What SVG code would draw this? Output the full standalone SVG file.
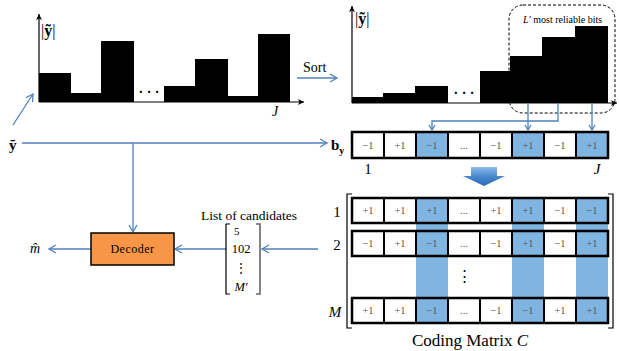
<svg xmlns="http://www.w3.org/2000/svg" width="619" height="351" viewBox="0 0 619 351" font-family="'Liberation Serif', 'DejaVu Serif', serif">
<defs>
<style>
text{font-family:'Liberation Serif','DejaVu Serif',serif;}
.cell{font-size:10.5px;fill:#555;text-anchor:middle;}
.c{stroke:#000;stroke-width:2;fill:#fff;}
.s{stroke:#000;stroke-width:2;fill:#7FB5E0;}
.con{stroke:#4F81BD;stroke-width:1.3;fill:none;}
.bar{fill:#000;}
</style>
<marker id="ah" markerUnits="userSpaceOnUse" markerWidth="12" markerHeight="12" refX="8" refY="5" orient="auto">
<path d="M1,1 L8,5 L1,9" fill="none" stroke="#4F81BD" stroke-width="1.3"/>
</marker>
<marker id="ahs" markerUnits="userSpaceOnUse" markerWidth="10" markerHeight="10" refX="6" refY="4" orient="auto">
<path d="M1,1 L6,4 L1,7" fill="none" stroke="#4F81BD" stroke-width="1.3"/>
</marker>
<marker id="bk" markerUnits="userSpaceOnUse" markerWidth="10" markerHeight="10" refX="6" refY="4" orient="auto">
<path d="M0,1 L6,4 L0,7 L1.5,4 Z" fill="#000"/>
</marker>
<linearGradient id="dg" x1="0" y1="0" x2="0" y2="1">
<stop offset="0" stop-color="#8DBBE8"/>
<stop offset="0.5" stop-color="#4A89D0"/>
<stop offset="1" stop-color="#2A66B0"/>
</linearGradient>
</defs>
<rect width="619" height="351" fill="#fff"/>

<g id="chart-unsorted">
<rect class="bar" x="39" y="73" width="32" height="29"/>
<rect class="bar" x="71" y="93" width="30" height="9"/>
<rect class="bar" x="101" y="41" width="33" height="61"/>
<rect class="bar" x="164" y="86" width="31" height="16"/>
<rect class="bar" x="195" y="59" width="33" height="43"/>
<rect class="bar" x="228" y="96" width="30" height="6"/>
<rect class="bar" x="258" y="34" width="32" height="68"/>
<line x1="39" y1="102" x2="39" y2="14" stroke="#000" stroke-width="1.2" marker-end="url(#bk)"/>
<line x1="39" y1="102" x2="304" y2="102" stroke="#000" stroke-width="1.2" marker-end="url(#bk)"/>
<text x="149" y="97" font-size="14" font-weight="bold" text-anchor="middle">· · ·</text>
<text x="41" y="36" font-size="16"><tspan>|</tspan><tspan font-weight="bold">ỹ</tspan><tspan>|</tspan></text>
<text x="275" y="116" font-size="14" font-style="italic" text-anchor="middle">J</text>
</g>

<g id="chart-sorted">
<rect class="bar" x="352" y="97" width="31" height="6"/>
<rect class="bar" x="383" y="93" width="32" height="10"/>
<rect class="bar" x="415" y="86" width="33" height="17"/>
<rect class="bar" x="480" y="71" width="30" height="32"/>
<rect class="bar" x="510" y="56" width="32" height="47"/>
<rect class="bar" x="542" y="37" width="33" height="66"/>
<rect class="bar" x="575" y="26" width="33" height="77"/>
<line x1="352" y1="103" x2="352" y2="6" stroke="#000" stroke-width="1.2" marker-end="url(#bk)"/>
<line x1="352" y1="103" x2="617" y2="103" stroke="#000" stroke-width="1.2" marker-end="url(#bk)"/>
<text x="464" y="98" font-size="14" font-weight="bold" text-anchor="middle">· · ·</text>
<text x="355" y="24" font-size="16"><tspan>|</tspan><tspan font-weight="bold">ỹ</tspan><tspan>|</tspan></text>
<rect x="509" y="5" width="106" height="108" rx="14" fill="none" stroke="#000" stroke-width="1" stroke-dasharray="3,2"/>
<text x="523" y="23" font-size="10"><tspan font-style="italic">L′</tspan> most reliable bits</text>
</g>

<g id="labels">
<text x="303" y="72" font-size="14">Sort</text>
<text x="9" y="150" font-size="15" font-weight="bold">ỹ</text>
<text x="30" y="253" font-size="14" font-style="italic">m̂</text>
<text x="331" y="150" font-size="15" font-weight="bold">b<tspan font-size="10" dy="4">y</tspan></text>
<text x="368" y="174" font-size="15" text-anchor="middle">1</text>
<text x="597" y="174" font-size="15" font-style="italic" text-anchor="middle">J</text>
</g>

<g id="connectors">
<line class="con" x1="13" y1="125" x2="33" y2="94" marker-end="url(#ah)"/>
<line class="con" x1="297" y1="78" x2="337" y2="78" marker-end="url(#ah)"/>
<line class="con" x1="22" y1="143" x2="327" y2="143" marker-end="url(#ah)"/>
<line class="con" x1="133" y1="143" x2="133" y2="232" marker-end="url(#ah)"/>
<line class="con" x1="91" y1="249" x2="49" y2="249" marker-end="url(#ah)"/>
<line class="con" x1="226" y1="249" x2="175" y2="249" marker-end="url(#ah)"/>
<line class="con" x1="318" y1="249" x2="262" y2="249" marker-end="url(#ah)"/>
<polyline class="con" points="558,103 558,121 432,121 432,130" marker-end="url(#ahs)"/>
<line class="con" x1="528" y1="103" x2="528" y2="130" marker-end="url(#ahs)"/>
<line class="con" x1="592" y1="103" x2="592" y2="130" marker-end="url(#ahs)"/>
</g>

<g id="decoder">
<rect x="91" y="233" width="83" height="32" fill="#F79646" stroke="#000" stroke-width="1.5"/>
<text x="132.5" y="253" font-size="12" text-anchor="middle" letter-spacing="0.5">Decoder</text>
</g>

<g id="candidates">
<text x="249" y="220" font-size="13.5" text-anchor="middle">List of candidates</text>
<path d="M230,224 H226 V294 H230" fill="none" stroke="#000" stroke-width="1.2"/>
<path d="M256,224 H260 V294 H256" fill="none" stroke="#666" stroke-width="1.6"/>
<text x="234" y="235" font-size="11">5</text>
<text x="241" y="253" font-size="12.5" text-anchor="middle">102</text>
<text x="241" y="272" font-size="12" text-anchor="middle">⋮</text>
<text x="241" y="291" font-size="12.5" text-anchor="middle" font-style="italic">M′</text>
</g>

<g id="by-row">
<rect class="c" x="352" y="132" width="32" height="26"/>
<rect class="c" x="384" y="132" width="32" height="26"/>
<rect class="s" x="416" y="132" width="32" height="26"/>
<rect class="c" x="448" y="132" width="32" height="26"/>
<rect class="c" x="480" y="132" width="32" height="26"/>
<rect class="s" x="512" y="132" width="32" height="26"/>
<rect class="c" x="544" y="132" width="32" height="26"/>
<rect class="s" x="576" y="132" width="32" height="26"/>
<rect x="352" y="132" width="256" height="26" fill="none" stroke="#000" stroke-width="2.5"/>
<text class="cell" x="368" y="149">−1</text>
<text class="cell" x="400" y="149">+1</text>
<text class="cell" x="432" y="149">−1</text>
<text class="cell" x="464" y="149">...</text>
<text class="cell" x="496" y="149">−1</text>
<text class="cell" x="528" y="149">+1</text>
<text class="cell" x="560" y="149">−1</text>
<text class="cell" x="592" y="149">+1</text>
</g>

<g id="down-arrow">
<path d="M471,167 H497 V176 H505 L484,186 L463,176 H471 Z" fill="url(#dg)"/>
</g>

<g id="coding-matrix">
<rect x="416" y="198" width="32" height="125" fill="#7FB5E0"/>
<rect x="512" y="198" width="32" height="125" fill="#7FB5E0"/>
<rect x="576" y="198" width="32" height="125" fill="#7FB5E0"/>
<path d="M352,194 H347 V328 H352" fill="none" stroke="#000" stroke-width="1.2"/>
<path d="M608,194 H613 V328 H608" fill="none" stroke="#000" stroke-width="1.2"/>

<rect class="c" x="352" y="198" width="32" height="25"/>
<rect class="c" x="384" y="198" width="32" height="25"/>
<rect class="s" x="416" y="198" width="32" height="25"/>
<rect class="c" x="448" y="198" width="32" height="25"/>
<rect class="c" x="480" y="198" width="32" height="25"/>
<rect class="s" x="512" y="198" width="32" height="25"/>
<rect class="c" x="544" y="198" width="32" height="25"/>
<rect class="s" x="576" y="198" width="32" height="25"/>
<rect x="352" y="198" width="256" height="25" fill="none" stroke="#000" stroke-width="2.5"/>
<text class="cell" x="368" y="214">+1</text>
<text class="cell" x="400" y="214">+1</text>
<text class="cell" x="432" y="214">+1</text>
<text class="cell" x="464" y="214">...</text>
<text class="cell" x="496" y="214">+1</text>
<text class="cell" x="528" y="214">+1</text>
<text class="cell" x="560" y="214">−1</text>
<text class="cell" x="592" y="214">−1</text>

<rect class="c" x="352" y="231" width="32" height="25"/>
<rect class="c" x="384" y="231" width="32" height="25"/>
<rect class="s" x="416" y="231" width="32" height="25"/>
<rect class="c" x="448" y="231" width="32" height="25"/>
<rect class="c" x="480" y="231" width="32" height="25"/>
<rect class="s" x="512" y="231" width="32" height="25"/>
<rect class="c" x="544" y="231" width="32" height="25"/>
<rect class="s" x="576" y="231" width="32" height="25"/>
<rect x="352" y="231" width="256" height="25" fill="none" stroke="#000" stroke-width="2.5"/>
<text class="cell" x="368" y="247">−1</text>
<text class="cell" x="400" y="247">+1</text>
<text class="cell" x="432" y="247">−1</text>
<text class="cell" x="464" y="247">...</text>
<text class="cell" x="496" y="247">−1</text>
<text class="cell" x="528" y="247">+1</text>
<text class="cell" x="560" y="247">−1</text>
<text class="cell" x="592" y="247">+1</text>

<rect class="c" x="352" y="298" width="32" height="25"/>
<rect class="c" x="384" y="298" width="32" height="25"/>
<rect class="s" x="416" y="298" width="32" height="25"/>
<rect class="c" x="448" y="298" width="32" height="25"/>
<rect class="c" x="480" y="298" width="32" height="25"/>
<rect class="s" x="512" y="298" width="32" height="25"/>
<rect class="c" x="544" y="298" width="32" height="25"/>
<rect class="s" x="576" y="298" width="32" height="25"/>
<rect x="352" y="298" width="256" height="25" fill="none" stroke="#000" stroke-width="2.5"/>
<text class="cell" x="368" y="314">+1</text>
<text class="cell" x="400" y="314">+1</text>
<text class="cell" x="432" y="314">−1</text>
<text class="cell" x="464" y="314">...</text>
<text class="cell" x="496" y="314">−1</text>
<text class="cell" x="528" y="314">−1</text>
<text class="cell" x="560" y="314">+1</text>
<text class="cell" x="592" y="314">+1</text>

<text x="464" y="281" font-size="15" text-anchor="middle">⋮</text>
<text x="337" y="217" font-size="15" text-anchor="middle">1</text>
<text x="337" y="250" font-size="15" text-anchor="middle">2</text>
<text x="335" y="317" font-size="15" font-style="italic" text-anchor="middle">M</text>
<text x="470" y="346" font-size="17" text-anchor="middle">Coding Matrix <tspan font-style="italic">C</tspan></text>
</g>
</svg>
